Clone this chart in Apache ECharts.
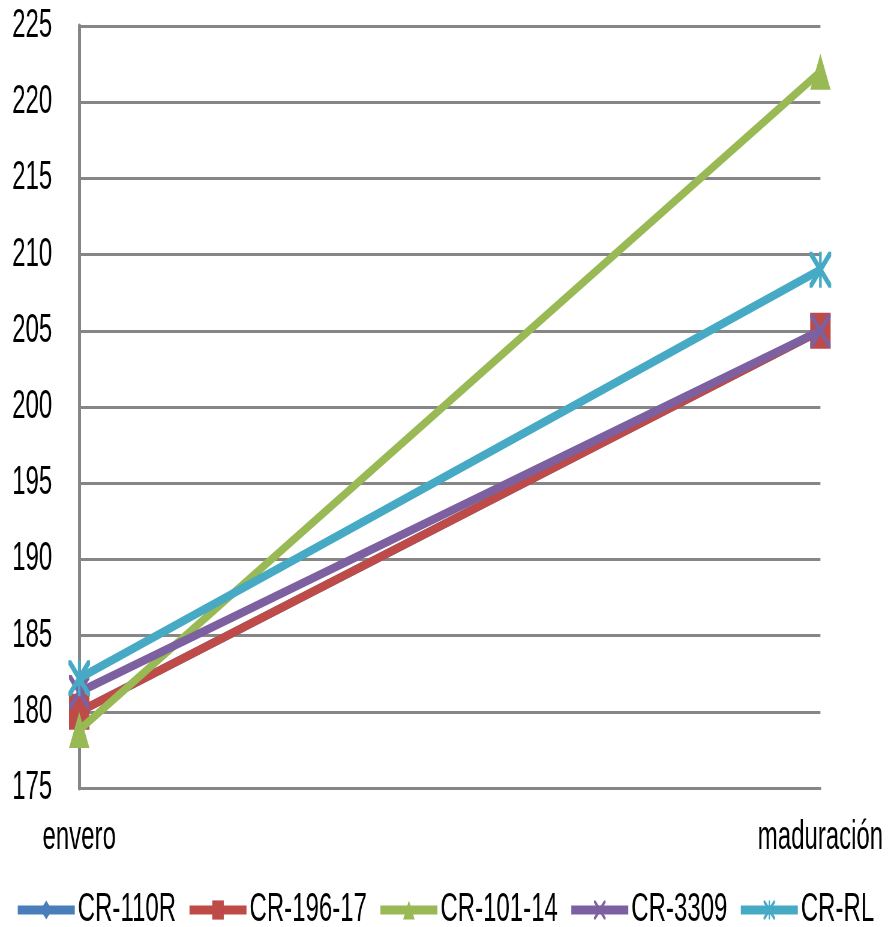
<!DOCTYPE html>
<html>
<head>
<meta charset="utf-8">
<script src="https://cdn.jsdelivr.net/npm/echarts@6/dist/echarts.min.js"></script>
<style>
html,body{margin:0;padding:0;background:#fff;overflow:hidden;}
#wrap{width:889px;height:927px;overflow:hidden;}
#c{width:1481.67px;height:927px;transform:scaleX(0.6);transform-origin:0 0;}
</style>
</head>
<body>
<div id="wrap"><div id="c"></div></div>
<script>
const categories = ['envero', 'maduración'];
const seriesNames = ['CR-110R', 'CR-196-17', 'CR-101-14', 'CR-3309', 'CR-RL'];
const cr110R = [180, 205];
const cr19617 = [180, 205];
const cr10114 = [178.8, 222];
const cr3309 = [181.3, 205];
const crRL = [182.2, 209];
const yTicks = [175, 180, 185, 190, 195, 200, 205, 210, 215, 220, 225];

const colors = ['#4A7EBB', '#BE4B48', '#98B954', '#7D60A0', '#46AAC5'];
const xPath = 'path://M0,0L2.5,0L10,7.5L17.5,0L20,0L20,2.5L12.5,10L20,17.5L20,20L17.5,20L10,12.5L2.5,20L0,20L0,17.5L7.5,10L0,2.5Z';
const starPath = 'path://M0,0L2.5,0L10,7.5L17.5,0L20,0L20,2.5L12.5,10L20,17.5L20,20L17.5,20L10,12.5L2.5,20L0,20L0,17.5L7.5,10L0,2.5Z M8.8,0L11.2,0L11.2,20L8.8,20Z';
const symbols = ['diamond', 'rect', 'triangle', xPath, starPath];
const sizes = [[22, 30], [34, 36], [34, 36], [34, 34], [36, 36]];
const dataSets = [cr110R, cr19617, cr10114, cr3309, crRL];

const FONT = '"Liberation Sans", Arial, sans-serif';
const chart = echarts.init(document.getElementById('c'));
chart.setOption({
  animation: false,
  color: colors,
  grid: {left: 132, right: 114.67, top: 26, bottom: 139},
  legend: {
    bottom: -8,
    left: 'center',
    itemWidth: 95,
    itemHeight: 24,
    itemGap: 18,
    lineStyle: {width: 9},
    textStyle: {fontFamily: FONT, fontSize: 40, color: '#000', padding: [0, 0, 0, 0]},
    data: seriesNames
  },
  xAxis: {
    type: 'category',
    data: categories,
    boundaryGap: false,
    axisLine: {show: true, lineStyle: {color: '#868686', width: 3}},
    axisTick: {show: false},
    axisLabel: {fontFamily: FONT, fontSize: 40, color: '#000', margin: 30},
    splitLine: {show: false}
  },
  yAxis: {
    type: 'value',
    min: yTicks[0],
    max: yTicks[yTicks.length - 1],
    interval: 5,
    axisLine: {show: true, lineStyle: {color: '#868686', width: 5}},
    axisTick: {show: false},
    axisLabel: {fontFamily: FONT, fontSize: 40, color: '#000', margin: 45},
    splitLine: {show: true, lineStyle: {color: '#868686', width: 3}}
  },
  series: seriesNames.map((n, i) => ({
    name: n,
    type: 'line',
    data: dataSets[i],
    symbol: symbols[i],
    symbolSize: sizes[i],
    showAllSymbol: true,
    lineStyle: {width: 9, color: colors[i]},
    itemStyle: {color: colors[i], borderWidth: 0},
    z: 2 + i
  }))
});
</script>
</body>
</html>
